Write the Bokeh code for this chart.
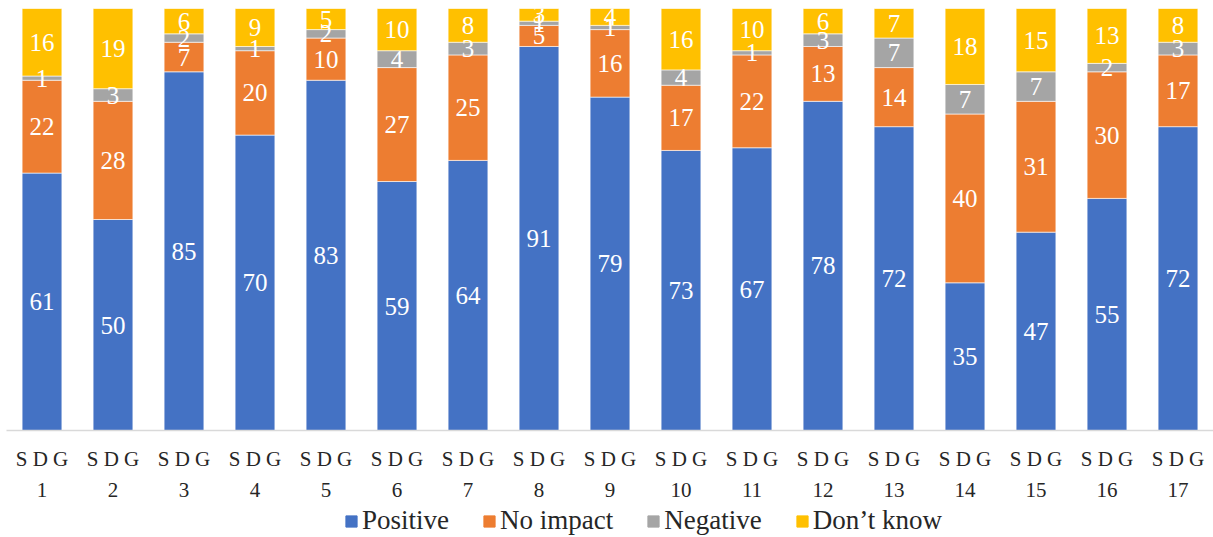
from bokeh.plotting import figure
from bokeh.layouts import column
from bokeh.models import ColumnDataSource, FactorRange, Range1d, Legend, LegendItem
from bokeh.core.properties import value
from bokeh.embed import file_html
from bokeh.resources import INLINE

categories = ["S D G\n" + str(i) for i in range(1, 18)]
positive  = [61, 50, 85, 70, 83, 59, 64, 91, 79, 73, 67, 78, 72, 35, 47, 55, 72]
no_impact = [22, 28, 7, 20, 10, 27, 25, 5, 16, 17, 22, 13, 14, 40, 31, 30, 17]
negative  = [1, 3, 2, 1, 2, 4, 3, 1, 1, 4, 1, 3, 7, 7, 7, 2, 3]
dont_know = [16, 19, 6, 9, 5, 10, 8, 3, 4, 16, 10, 6, 7, 18, 15, 13, 8]
series_names = ["Positive", "No impact", "Negative", "Don\u2019t know"]
colors = ["#4472C4", "#ED7D31", "#A5A5A5", "#FFC000"]

series = [positive, no_impact, negative, dont_know]
keys = ["pos", "noi", "neg", "dk"]
totals = [sum(v) for v in zip(*series)]
data = {"cat": categories}
for k, s in zip(keys, series):
    data[k] = [v / t * 100 for v, t in zip(s, totals)]
source = ColumnDataSource(data)

FONT = "Liberation Serif"

p = figure(x_range=FactorRange(*categories, range_padding=0), y_range=Range1d(0, 100),
           width=1213, height=505, output_backend="svg", toolbar_location=None,
           min_border_left=6, min_border_right=0, min_border_top=8, min_border_bottom=20)
renderers = p.vbar_stack(keys, x="cat", width=0.56, color=colors, source=source,
                         line_color="white", line_width=0.6)

# data labels
lx, ly, lt = [], [], []
for i, c in enumerate(categories):
    base = 0.0
    for k, s in zip(keys, series):
        h = data[k][i]
        lx.append(c)
        ly.append(base + h / 2)
        lt.append(str(s[i]))
        base += h
p.text(x=lx, y=ly, text=lt, text_color="white", text_align="center", text_baseline="middle",
       text_font=value(FONT), text_font_size="25px")

p.yaxis.visible = False
p.xgrid.grid_line_color = None
p.ygrid.grid_line_color = None
p.outline_line_color = None
p.xaxis.axis_line_color = "#D9D9D9"
p.xaxis.axis_line_width = 1.5
p.xaxis.major_tick_line_color = None
p.xaxis.minor_tick_line_color = None
p.xaxis.major_tick_out = 0
p.xaxis.major_tick_in = 0
p.xaxis.major_label_text_font = FONT
p.xaxis.major_label_text_font_size = "21px"
p.xaxis.major_label_text_color = "#262626"
p.xaxis.major_label_standoff = 16
p.xaxis.major_label_text_line_height = 1.33

# legend figure
lf = figure(width=1213, height=32, x_range=Range1d(0, 1), y_range=Range1d(0, 1),
            output_backend="svg", toolbar_location=None,
            min_border_left=0, min_border_right=0, min_border_top=0, min_border_bottom=0)
lf.axis.visible = False
lf.grid.grid_line_color = None
lf.outline_line_color = None
dummies = [lf.rect(x=[-5], y=[-5], width=1, height=1, color=c) for c in colors]
legend = Legend(items=[LegendItem(label=n, renderers=[r]) for n, r in zip(series_names, dummies)],
                orientation="horizontal", location=(338, 1),
                label_text_font=FONT, label_text_font_size="27px", label_text_color="#262626",
                glyph_width=14, glyph_height=14, label_standoff=4, spacing=33, label_height=14,
                padding=0, margin=0, border_line_color=None, background_fill_alpha=0)
lf.add_layout(legend)

open("out.html", "w").write(file_html(column(p, lf, spacing=0), INLINE))
